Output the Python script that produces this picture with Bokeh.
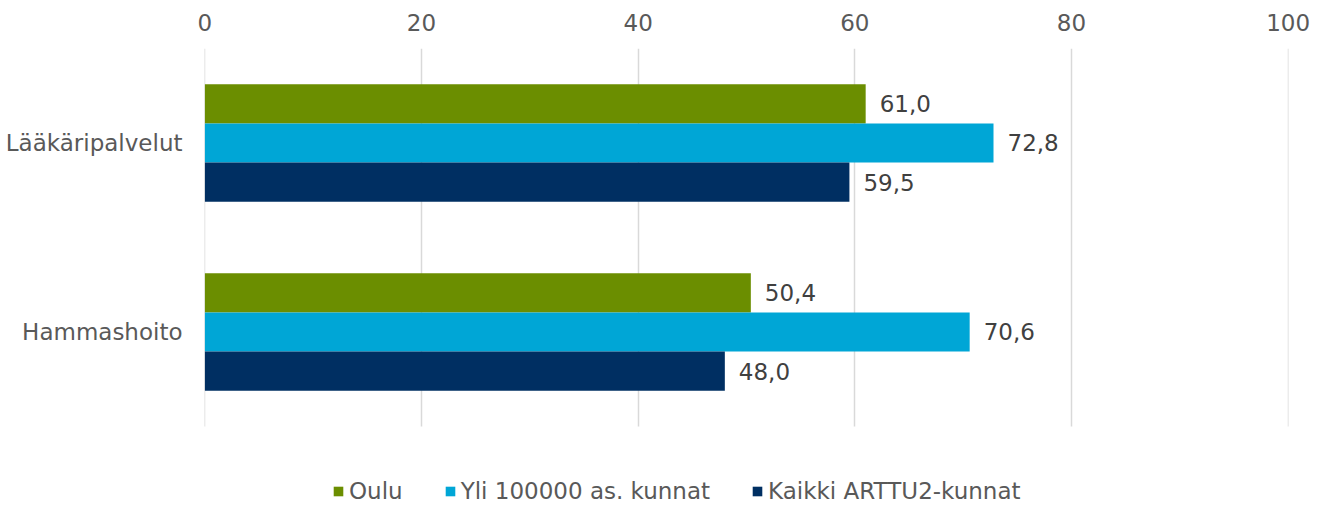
from bokeh.plotting import figure
from bokeh.models import ColumnDataSource, Range1d, FixedTicker, Legend, LegendItem, LabelSet
from bokeh.core.properties import value
from bokeh.embed import file_html
from bokeh.resources import INLINE

categories = ["Lääkäripalvelut", "Hammashoito"]
series_names = ["Oulu", "Yli 100000 as. kunnat", "Kaikki ARTTU2-kunnat"]
oulu = [61.0, 50.4]
yli100000 = [72.8, 70.6]
kaikki = [59.5, 48.0]
x_ticks = [0, 20, 40, 60, 80, 100]

colors = ["#6B8E00", "#00A6D6", "#002F62"]
FONT = "DejaVu Sans"
FS = "23px"

def fmt(v):
    return f"{v:.1f}".replace(".", ",")

n = len(categories)
# category centres, first category on top
cat_pos = [n - i - 0.5 for i in range(n)]

p = figure(
    width=1316, height=504,
    y_range=Range1d(-0.413, n),
    x_range=Range1d(-0.03, 100.03),
    x_axis_location="above",
    output_backend="svg", toolbar_location=None,
    min_border_left=204, min_border_right=28, min_border_top=48, min_border_bottom=0,
)
p.outline_line_color = None
p.background_fill_color = "white"

# vertical grid lines spanning only the category area
xg = p.xgrid[0]
xg.ticker = FixedTicker(ticks=x_ticks)
xg.grid_line_color = "#D9D9D9"
xg.grid_line_width = 1.5
if "cross_bounds" in xg.properties():
    xg.cross_bounds = (0, n)
else:
    xg.grid_line_color = None
    p.segment(x0=x_ticks, x1=x_ticks, y0=[0] * len(x_ticks), y1=[n] * len(x_ticks),
              line_color="#D9D9D9", line_width=1.5)
p.ygrid.grid_line_color = None

bar_h = 0.207
offsets = [bar_h, 0.0, -bar_h]
series = [oulu, yli100000, kaikki]
renderers = []
for name, vals, off, col in zip(series_names, series, offsets, colors):
    src = ColumnDataSource(dict(y=[c + off for c in cat_pos], val=vals, lab=[fmt(v) for v in vals]))
    r = p.hbar(y="y", right="val", left=0, height=bar_h,
               source=src, fill_color=col, line_color=None)
    renderers.append(r)
    lbl = LabelSet(x="val", y="y", text="lab", source=src,
                   x_offset=14, text_baseline="middle", text_align="left",
                   text_font=value(FONT), text_font_size=value(FS), text_color="#404040")
    p.add_layout(lbl)

# axes
xa = p.xaxis[0]
xa.ticker = FixedTicker(ticks=x_ticks)
xa.axis_line_color = None
xa.major_tick_line_color = None
xa.minor_tick_line_color = None
xa.major_tick_out = 0
xa.major_tick_in = 0
xa.major_label_standoff = 18
xa.major_label_text_font = FONT
xa.major_label_text_font_size = FS
xa.major_label_text_color = "#595959"

ya = p.yaxis[0]
ya.ticker = FixedTicker(ticks=cat_pos)
ya.major_label_overrides = {pos: c for pos, c in zip(cat_pos, categories)}
ya.axis_line_color = None
ya.major_tick_line_color = None
ya.minor_tick_line_color = None
ya.major_tick_out = 0
ya.major_tick_in = 0
ya.major_label_standoff = 22
ya.major_label_text_font = FONT
ya.major_label_text_font_size = FS
ya.major_label_text_color = "#595959"

legend = Legend(
    items=[LegendItem(label=s, renderers=[r]) for s, r in zip(series_names, renderers)],
    orientation="horizontal",
    location=(128, 0),
    padding=0, margin=0, spacing=41,
    glyph_width=12, glyph_height=12, label_standoff=5,
    label_text_font=FONT, label_text_font_size=FS, label_text_color="#595959",
    border_line_alpha=0, background_fill_alpha=0,
)
p.add_layout(legend, "center")

open("out.html", "w").write(file_html(p, INLINE))
